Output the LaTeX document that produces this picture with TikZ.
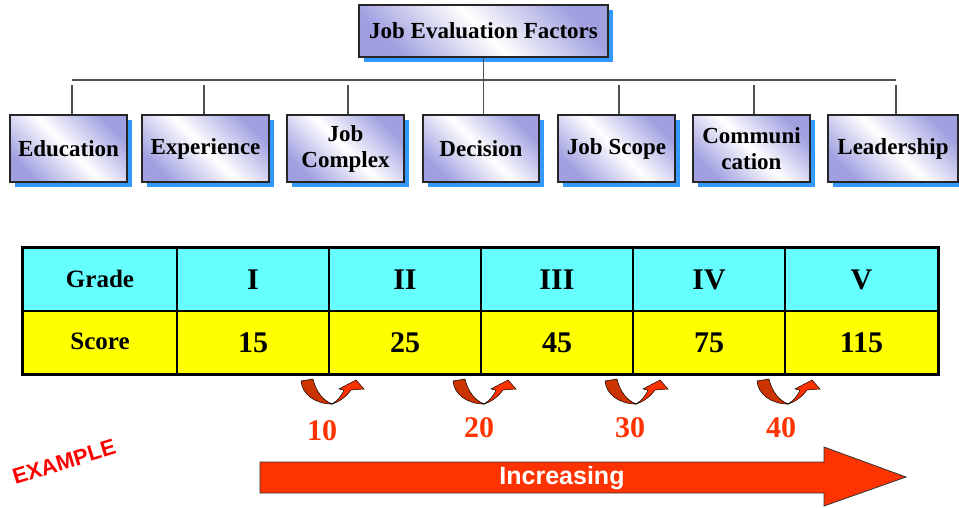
\documentclass[tikz,border=0pt]{standalone}
\usepackage{fontspec}
\setmainfont{Liberation Serif}
\newfontfamily\arialfont{Liberation Sans}
\usetikzlibrary{shadows}
\definecolor{lav}{RGB}{160,160,225}
\definecolor{shblue}{RGB}{51,153,255}
\definecolor{cyancell}{RGB}{102,255,255}
\definecolor{yelcell}{RGB}{255,255,0}
\definecolor{orred}{RGB}{255,51,0}
\definecolor{darkred}{RGB}{204,51,0}
\definecolor{exred}{RGB}{255,0,0}
\definecolor{linegray}{RGB}{80,80,80}
\begin{document}
\begin{tikzpicture}[x=1pt,y=-1pt,
  factor/.style={draw=black!85, line width=1.2pt,
    left color=lav, right color=lav, middle color=white, shading angle=135,
    drop shadow={fill=shblue, opacity=1, shadow xshift=5pt, shadow yshift=-5pt},
    font=\fontsize{23}{26}\selectfont\bfseries, align=center, inner sep=0pt,
    minimum height=67pt},
  conn/.style={draw=linegray, line width=1.3pt},
  gcell/.style={draw=black, line width=1.2pt, fill=cyancell, inner sep=0pt, minimum height=63pt},
  scell/.style={draw=black, line width=1.2pt, fill=yelcell, inner sep=0pt, minimum height=63pt},
  headtxt/.style={font=\fontsize{25}{28}\selectfont\bfseries},
  bigtxt/.style={font=\fontsize{30}{32}\selectfont\bfseries},
  steptxt/.style={font=\fontsize{30}{32}\selectfont\bfseries, text=orred},
  uarrow/.pic={
    \filldraw[fill=darkred, draw=black, line width=0.5pt]
      (-28,3) .. controls (-27,16) and (-14,26) .. (3,26)
      .. controls (-6,22) and (-13,14) .. (-16,1) -- cycle;
    \filldraw[fill=orred, draw=black, line width=0.5pt]
      (3,26) .. controls (10,24) and (17,19) .. (22,12) -- (35,11) -- (27,2)
      -- (10,11) -- (15,12) .. controls (12,19) and (8,23) .. (3,26) -- cycle;
  }]
\useasboundingbox (0,0) rectangle (959,508);

% top box
\node[factor, minimum width=249pt, minimum height=52pt] (top) at (483.5,31) {Job Evaluation Factors};

% factor boxes
\node[factor, minimum width=117pt] (edu) at (68.5,148.5) {Education};
\node[factor, minimum width=127pt] (exp) at (205.5,148.5) {Experience};
\node[factor, minimum width=117pt] (cpx) at (345.5,148.5) {Job\\Complex};
\node[factor, minimum width=116pt] (dec) at (481,148.5) {Decision};
\node[factor, minimum width=117pt] (scp) at (616.5,148.5) {Job Scope};
\node[factor, minimum width=117pt] (com) at (751.5,148.5) {Communi\\cation};
\node[factor, minimum width=130pt] (lead) at (893,148.5) {Leadership};

% connectors
\coordinate (hl) at (72,80);
\coordinate (hr) at (896,80);
\draw[conn] (hl) -- (hr);
\draw[conn] (top.south) -- (top.south |- dec.north);
\draw[conn] ([xshift=3.5pt]edu.north) -- ++(0,-29);
\draw[conn] ([xshift=-1.5pt]exp.north) -- ++(0,-29);
\draw[conn] ([xshift=2.5pt]cpx.north) -- ++(0,-29);
\draw[conn] ([xshift=2.5pt]scp.north) -- ++(0,-29);
\draw[conn] ([xshift=2.5pt]com.north) -- ++(0,-29);
\draw[conn] ([xshift=3pt]lead.north) -- ++(0,-29);

% table
\node[gcell, minimum width=154pt, headtxt] (g0) at (100,279.5) {\raisebox{1pt}{Grade}};
\node[gcell, minimum width=152pt, bigtxt] (g1) at (253,279.5) {\raisebox{-3pt}{I}};
\node[gcell, minimum width=152pt, bigtxt] (g2) at (405,279.5) {\raisebox{-3pt}{II}};
\node[gcell, minimum width=152pt, bigtxt] (g3) at (557,279.5) {\raisebox{-3pt}{III}};
\node[gcell, minimum width=152pt, bigtxt] (g4) at (709,279.5) {\raisebox{-3pt}{IV}};
\node[gcell, minimum width=153pt, bigtxt] (g5) at (861.5,279.5) {\raisebox{-3pt}{V}};
\node[scell, minimum width=154pt, headtxt] (s0) at (100,342.5) {\raisebox{2pt}{Score}};
\node[scell, minimum width=152pt, bigtxt] (s1) at (253,342.5) {\raisebox{-3pt}{15}};
\node[scell, minimum width=152pt, bigtxt] (s2) at (405,342.5) {\raisebox{-3pt}{25}};
\node[scell, minimum width=152pt, bigtxt] (s3) at (557,342.5) {\raisebox{-3pt}{45}};
\node[scell, minimum width=152pt, bigtxt] (s4) at (709,342.5) {\raisebox{-3pt}{75}};
\node[scell, minimum width=153pt, bigtxt] (s5) at (861.5,342.5) {\raisebox{-3pt}{115}};
\draw[line width=3pt] (g0.north west) rectangle (s5.south east);

% step arrows
\pic at (329,378) {uarrow};
\pic at (481,378) {uarrow};
\pic at (633,378) {uarrow};
\pic at (785,378) {uarrow};
\node[steptxt] (d1) at (322,430.5) {10};
\node[steptxt] (d2) at (479,427.5) {20};
\node[steptxt] (d3) at (630,428) {30};
\node[steptxt] (d4) at (781,428) {40};

% EXAMPLE
\node[font=\arialfont\fontsize{22}{24}\selectfont\bfseries, text=exred, rotate=17] (ex) at (64,462) {EXAMPLE};

% big arrow
\filldraw[fill=orred, draw=black!80, line width=0.8pt]
  (260,462) -- (824,462) -- (824,447) -- (906,477) -- (824,506) -- (824,493) -- (260,493) -- cycle;
\node[font=\arialfont\fontsize{25}{27}\selectfont\bfseries, text=white] (inc) at (562,478) {Increasing};
\end{tikzpicture}
\end{document}
